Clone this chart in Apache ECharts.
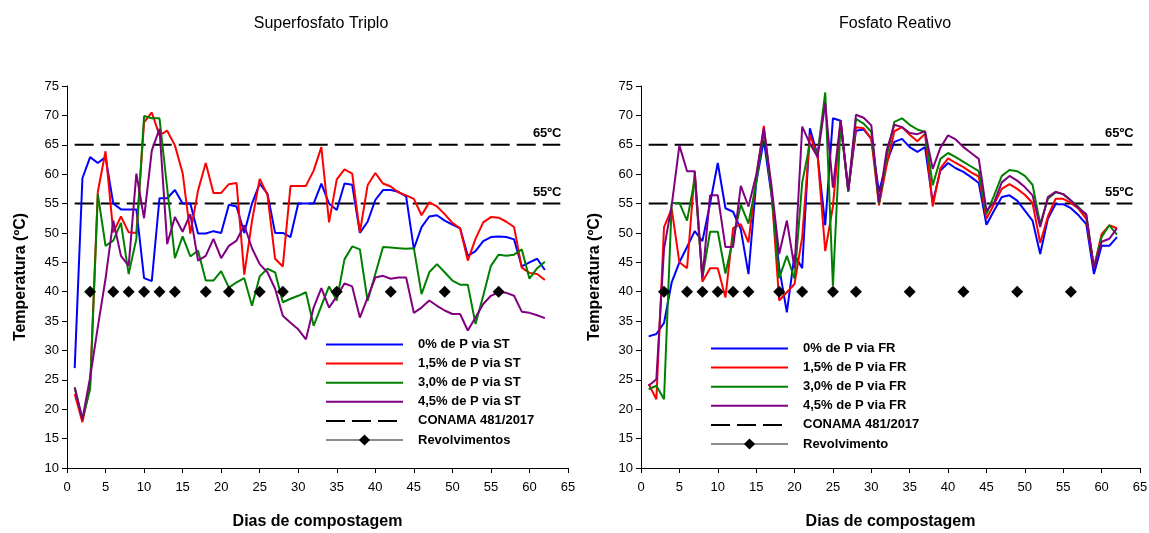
<!DOCTYPE html>
<html lang="pt">
<head>
    <meta charset="UTF-8">
    <title>Temperatura na compostagem</title>
    <script src="https://cdn.jsdelivr.net/npm/echarts@6/dist/echarts.min.js"></script>
    <style>
        html, body { margin: 0; padding: 0; background: #fff; }
        #chart { width: 1149px; height: 533px; }
    </style>
</head>
<body>
<div id="chart"></div>
<script>
    // dias de compostagem
    var days = [1, 2, 3, 4, 5, 6, 7, 8, 9, 10, 11, 12, 13, 14, 15, 16, 17, 18, 19, 20,
        21, 22, 23, 24, 25, 26, 27, 28, 29, 30, 31, 32, 33, 34, 35, 36, 37, 38, 39, 40,
        41, 42, 43, 44, 45, 46, 47, 48, 49, 50, 51, 52, 53, 54, 55, 56, 57, 58, 59, 60, 61, 62];

    // Superfosfato Triplo
    var st0 = [27, 59.3, 62.9, 61.9, 62.9, 55, 54, 54, 54, 42.3, 41.8, 55.9, 55.9, 57.3, 55, 55, 49.9, 49.9, 50.3, 50,
        54.8, 54.5, 50, 55, 58.4, 56.7, 50, 50, 49.3, 55, 55, 55, 58.4, 55, 53.9, 58.4, 58.2, 50, 51.9, 55.6,
        57.3, 57.3, 57, 56.2, 47.3, 51, 52.8, 53, 52.1, 51.4, 50.8, 46.1, 46.9, 48.6, 49.3, 49.4, 49.3, 48.9, 44.3, 45, 45.6, 43.7];
    var st15 = [22.6, 17.8, 24, 57, 63.9, 50.1, 52.8, 50.1, 50, 68.8, 70.5, 66.6, 67.4, 64.9, 60.2, 49.9, 57.2, 61.9, 56.8, 56.8,
        58.3, 58.5, 42.9, 52, 59.2, 56.5, 45.6, 44.3, 58, 58, 58, 60.6, 64.6, 51.8, 59.1, 60.8, 60.1, 50.1, 58.1, 60.2,
        58.4, 57.9, 56.9, 56.4, 55.8, 53, 55.2, 54.5, 53.2, 51.7, 50.8, 45.3, 49, 51.8, 52.7, 52.6, 51.9, 51, 44.1, 43.2, 43, 42];
    var st30 = [23.7, 18.3, 23.4, 56.6, 47.8, 48.7, 51.7, 43, 49, 69.9, 69.5, 69.5, 57.6, 45.7, 49.4, 46, 47, 41.9, 41.9, 43.5,
        40.7, 41.6, 42.3, 37.6, 42.6, 43.9, 43.3, 38.2, 38.8, 39.3, 39.9, 34.2, 37.6, 40.9, 38.5, 45.5, 47.7, 47.2, 38.4, 43,
        47.6, 47.5, 47.4, 47.3, 47.4, 39.6, 43.3, 44.7, 43.3, 41.9, 41.2, 41.2, 34.5, 39.3, 44.4, 46.3, 46.1, 46.3, 47.2, 42.2, 44, 45.1];
    var st45 = [23.7, 18.3, 25.4, 34, 42.2, 52.1, 46.1, 44.4, 60.1, 52.5, 64, 67.7, 48.1, 52.7, 50.2, 53.2, 45.3, 46.1, 49, 45.7,
        47.8, 48.7, 51.3, 47.4, 44.7, 43.3, 40.5, 35.9, 34.7, 33.6, 31.9, 37.3, 40.6, 37.3, 39.2, 41.4, 40.9, 35.6, 39, 42.4,
        42.7, 42.2, 42.4, 42.4, 36.4, 37.3, 38.5, 37.6, 36.8, 36.2, 36.2, 33.4, 35.6, 37.9, 39.3, 39.9, 39.8, 39.3, 36.6, 36.4, 36, 35.5];

    // Fosfato Reativo
    var fr0 = [32.4, 32.8, 34.7, 41.6, 45, 47.6, 50.3, 48.6, 55, 61.9, 54.2, 53.6, 50.6, 43, 58.5, 65.8, 56.4, 44.1, 36.5, 46.3,
        44, 67.8, 63.2, 51.3, 69.5, 69.1, 57.2, 67.4, 67.6, 66, 57, 62, 65.5, 66, 64.6, 63.8, 64.6, 55.2, 60.6, 61.9,
        61, 60.4, 59.5, 58.5, 51.4, 53.8, 56.1, 56.4, 55.5, 53.8, 52.1, 46.4, 52.4, 54.9, 54.9, 54.2, 53, 51.5, 43, 47.8, 47.8, 49.3];
    var fr15 = [24.3, 21.7, 51, 54.1, 45, 44, 60.5, 41.7, 44, 44, 39, 50.8, 51.5, 48.4, 59.2, 68.2, 57, 38.5, 39.9, 41.3,
        49.3, 66.7, 63.2, 46.9, 54.5, 69.1, 57.2, 68, 67.8, 66, 54.7, 61.5, 67.3, 68, 66.7, 65.6, 66.9, 54.5, 61, 62.7,
        61.9, 61.2, 60.3, 59.6, 52.4, 54.9, 57.5, 58.3, 57.5, 56.5, 55.1, 48.3, 52.8, 55.8, 55.8, 55.1, 54.1, 52.4, 44.1, 49.8, 51.3, 50.8];
    var fr30 = [23.4, 24, 21.7, 55.1, 55.1, 52.1, 59.2, 42.4, 50.2, 50.2, 43.1, 49, 54.8, 51.6, 58.5, 67.3, 56.9, 42.3, 46.1, 42.2,
        58.6, 65.2, 63.5, 73.9, 41, 68.6, 57, 69.4, 68.6, 67.2, 55, 63, 68.9, 69.5, 68.4, 67.6, 67.2, 58.1, 62.6, 63.6,
        62.9, 62.1, 61.3, 60.5, 53.2, 56.4, 59.7, 60.7, 60.5, 59.7, 58.2, 51.5, 55.8, 56.9, 56.6, 55.5, 54.4, 53, 44.1, 49.3, 51.3, 49.7];
    var fr45 = [24, 25.1, 47.3, 54.7, 64.9, 60.5, 60.5, 42.3, 56.4, 56.4, 47.6, 47.6, 58, 54.5, 59.8, 67.8, 58, 46.4, 52.1, 44,
        68.1, 65.2, 62.9, 72.1, 57.7, 69.2, 57.2, 70.1, 69.6, 68.3, 55.2, 64, 68.4, 68, 67, 66.8, 67.3, 60.9, 64.5, 66.6,
        65.9, 64.6, 63.6, 62.6, 53.8, 55.2, 58.6, 59.7, 58.9, 57.8, 56.4, 51, 56.1, 57, 56.6, 55.5, 54.2, 53.2, 44, 48.5, 49, 50.8];

    // revolvimentos (dias) e a temperatura onde os marcadores ficam
    var turnDays = [3, 6, 8, 10, 12, 14, 18, 21, 25, 28, 35, 42, 49, 56];
    var turnLevel = 40;

    // limites CONAMA 481/2017
    var limitDays = [1, 64];
    var limitValues = [65, 55];
    var limitLabels = ['65ºC', '55ºC'];
    var limitLabelDay = 62.3;

    var xTicks = { min: 0, max: 65, interval: 5 };
    var yTicks = { min: 10, max: 75, interval: 5 };

    var titles = ['Superfosfato Triplo', 'Fosfato Reativo'];
    var stNames = ['0% de P via ST', '1,5% de P via ST', '3,0% de P via ST', '4,5% de P via ST'];
    var frNames = ['0% de P via FR', '1,5% de P via FR', '3,0% de P via FR', '4,5% de P via FR'];
    var conamaName = 'CONAMA 481/2017';
    var turnNames = ['Revolvimentos', 'Revolvimento'];
    var colors = ['#0000FF', '#FF0000', '#008000', '#800080'];

    var FONT = '"Liberation Sans", Arial, sans-serif';

    function toPairs(vals) {
        return vals.map(function (v, i) { return [days[i], v]; });
    }

    function makeAxes(idx) {
        var x = {
            type: 'value', gridIndex: idx,
            min: xTicks.min, max: xTicks.max, interval: xTicks.interval,
            name: 'Dias de compostagem', nameLocation: 'middle', nameGap: 46,
            nameTextStyle: { fontFamily: FONT, fontSize: 16, fontWeight: 'bold', color: '#000' },
            axisLine: { lineStyle: { color: '#000', width: 1 } },
            axisTick: { show: true, length: 5, lineStyle: { color: '#000' } },
            axisLabel: { fontFamily: FONT, fontSize: 13, color: '#000', margin: 13 },
            splitLine: { show: false }
        };
        var y = {
            type: 'value', gridIndex: idx,
            min: yTicks.min, max: yTicks.max, interval: yTicks.interval,
            name: 'Temperatura (ºC)', nameLocation: 'middle', nameGap: 38,
            nameTextStyle: { fontFamily: FONT, fontSize: 16, fontWeight: 'bold', color: '#000' },
            axisLine: { show: true, lineStyle: { color: '#000', width: 1 } },
            axisTick: { show: true, length: 5, lineStyle: { color: '#000' } },
            axisLabel: { fontFamily: FONT, fontSize: 13, color: '#000', margin: 8 },
            splitLine: { show: false }
        };
        return { x: x, y: y };
    }

    function makeSeries(idx, names, lists, turnName) {
        var out = [];
        lists.forEach(function (vals, k) {
            out.push({
                name: names[k], type: 'line', xAxisIndex: idx, yAxisIndex: idx,
                data: toPairs(vals), symbol: 'none',
                lineStyle: { color: colors[k], width: 2 }, itemStyle: { color: colors[k] },
                z: 3 + k
            });
        });
        limitValues.forEach(function (lv, k) {
            out.push({
                name: conamaName, type: 'line', xAxisIndex: idx, yAxisIndex: idx,
                data: limitDays.map(function (d) { return [d, lv]; }),
                symbol: 'none',
                lineStyle: { color: '#000', width: 2, type: [19, 7] },
                itemStyle: { color: '#000' },
                z: 2,
                markPoint: {
                    symbol: 'circle', symbolSize: 0, silent: true,
                    data: [{ coord: [limitLabelDay, lv], value: limitLabels[k] }],
                    label: {
                        show: true, position: 'top', distance: 5, formatter: '{c}',
                        fontFamily: FONT, fontSize: 13, fontWeight: 'bold', color: '#000'
                    }
                }
            });
        });
        out.push({
            name: turnName, type: 'line', xAxisIndex: idx, yAxisIndex: idx,
            data: turnDays.map(function (d) { return [d, turnLevel]; }),
            symbol: 'diamond', symbolSize: 12, showSymbol: true,
            lineStyle: { width: 0, color: '#666' },
            itemStyle: { color: '#000' },
            z: 10
        });
        return out;
    }

    function makeLegend(left, top, names, turnName) {
        // linhas sem marcador na legenda
        var data = names.map(function (n) { return { name: n, itemStyle: { opacity: 0 } }; });
        data.push({ name: conamaName, itemStyle: { opacity: 0 } });
        data.push({ name: turnName, lineStyle: { width: 1.5, color: '#666', opacity: 1 }, itemStyle: { color: '#000' } });
        return {
            orient: 'vertical', left: left, top: top,
            itemWidth: 77, itemHeight: 14, itemGap: 6.1,
            selectedMode: false,
            data: data,
            textStyle: { fontFamily: FONT, fontSize: 13, fontWeight: 'bold', color: '#000', padding: [0, 0, 0, 10] }
        };
    }

    var chart = echarts.init(document.getElementById('chart'), null, { renderer: 'canvas' });

    var a0 = makeAxes(0), a1 = makeAxes(1);
    var option = {
        animation: false,
        backgroundColor: '#fff',
        title: [
            { text: titles[0], left: 316, top: 11, textAlign: 'center',
              textStyle: { fontFamily: FONT, fontSize: 16, fontWeight: 'normal', color: '#000' } },
            { text: titles[1], left: 890, top: 11, textAlign: 'center',
              textStyle: { fontFamily: FONT, fontSize: 16, fontWeight: 'normal', color: '#000' } }
        ],
        grid: [
            { left: 67, top: 86, width: 501, height: 382, outerBoundsMode: 'none' },
            { left: 641, top: 86, width: 499, height: 382, outerBoundsMode: 'none' }
        ],
        xAxis: [a0.x, a1.x],
        yAxis: [a0.y, a1.y],
        legend: [
            makeLegend(320, 333, stNames, turnNames[0]),
            makeLegend(705, 337, frNames, turnNames[1])
        ],
        series: makeSeries(0, stNames, [st0, st15, st30, st45], turnNames[0])
            .concat(makeSeries(1, frNames, [fr0, fr15, fr30, fr45], turnNames[1]))
    };
    chart.setOption(option);
</script>
</body>
</html>
